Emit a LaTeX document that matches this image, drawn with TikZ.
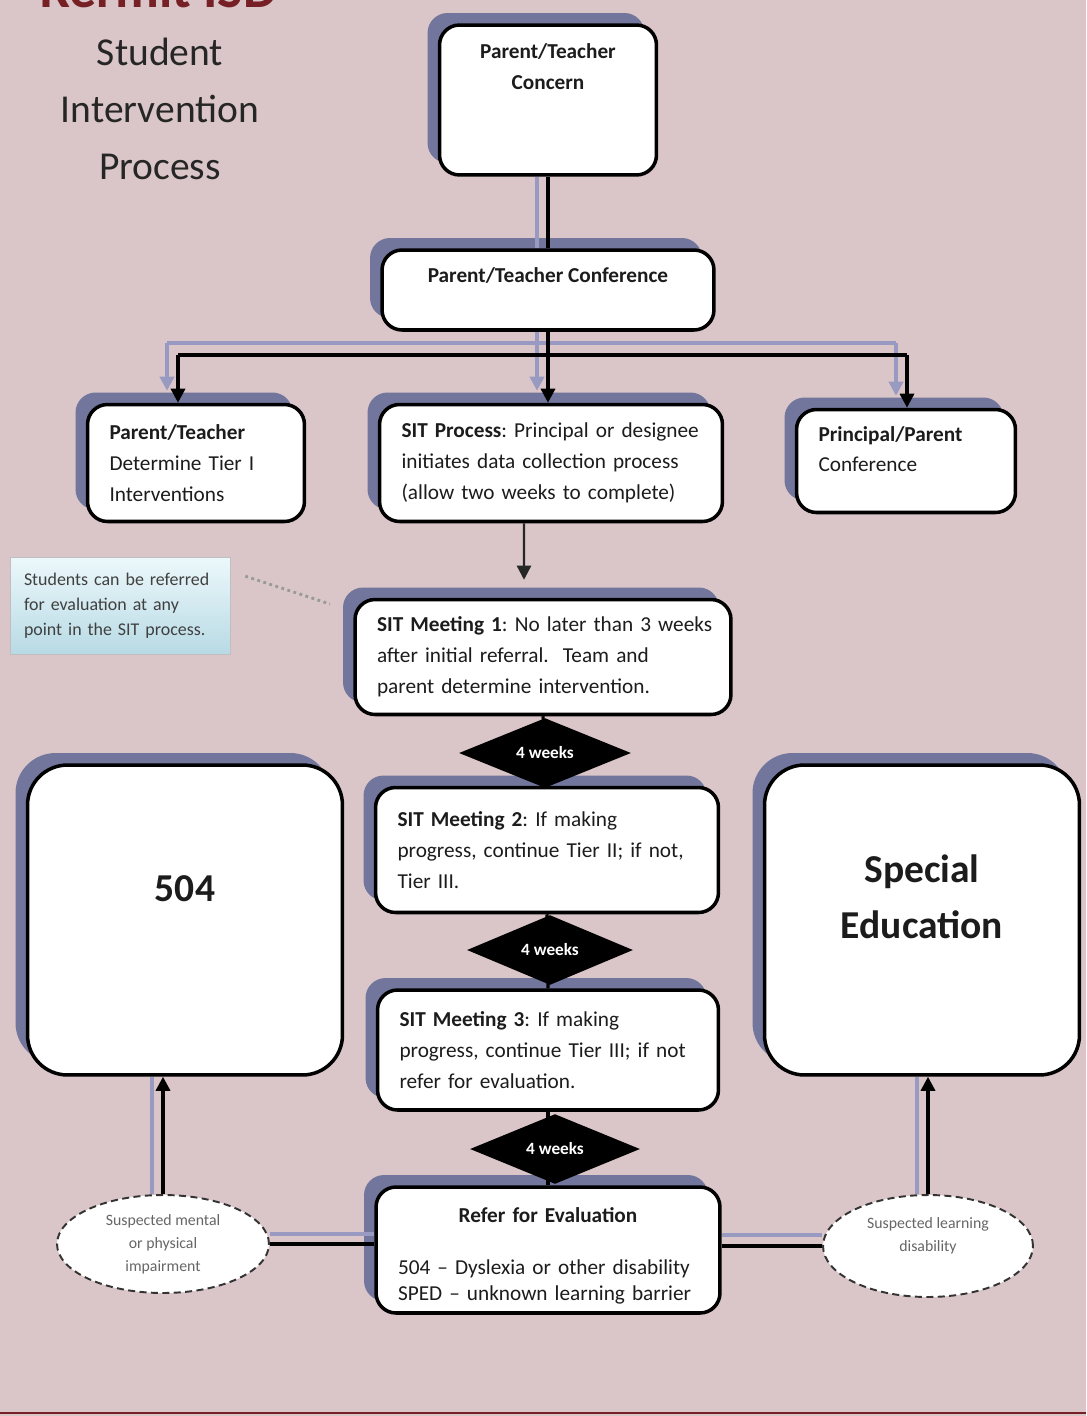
\documentclass[tikz,border=0pt]{standalone}
\usepackage{fontspec}
\setmainfont{Carlito}
\usetikzlibrary{positioning,shapes.geometric,shadows,arrows.meta}

\definecolor{bgpink}{RGB}{218,198,200}
\definecolor{boxshade}{RGB}{114,118,156}
\definecolor{lineshade}{RGB}{152,154,194}
\definecolor{isdred}{RGB}{118,32,38}
\definecolor{inktext}{RGB}{28,28,28}
\definecolor{notetop}{RGB}{236,248,251}
\definecolor{notebottom}{RGB}{184,218,228}

\tikzset{
  ptbox/.style={draw=black,line width=2pt,fill=white,rounded corners=0.4cm,
    general shadow={fill=boxshade,shadow xshift=-0.24cm,shadow yshift=0.24cm},
    inner xsep=0.44cm,inner ysep=2pt,text=inktext,
    font=\frenchspacing\fontsize{12.1}{17.6}\selectfont},
  bigbox/.style={ptbox,rounded corners=0.8cm,align=center,
    font=\bfseries\fontsize{22.5}{31.8}\selectfont},
  weeks/.style={diamond,fill=black,inner sep=0pt,text=white,
    font=\bfseries\fontsize{9.8}{12}\selectfont},
  suspect/.style={ellipse,draw=black!80,dash pattern=on 4pt off 2.5pt,line width=1.1pt,
    fill=white,inner sep=0pt,text=black!60,align=center,
    font=\fontsize{9}{13}\selectfont},
  note/.style={draw=black!25,line width=0.4pt,top color=notetop,bottom color=notebottom,
    inner xsep=0.28cm,align=left,text=black!75,font=\fontsize{10.2}{14.2}\selectfont},
  link/.style={line width=1.8pt},
  linkshade/.style={line width=2.2pt,draw=lineshade},
}

\begin{document}
\begin{tikzpicture}[x=0.02cm,y=-0.02cm,>={Triangle[length=8pt,width=8pt]}]
  \fill[bgpink] (0,0) rectangle (1086,1416);
  \useasboundingbox (0,0) rectangle (1086,1416);
  \draw[isdred,line width=1.2pt] (0,1413) -- (1086,1413);

  % heading
  \node[anchor=base,text=isdred,font=\bfseries\fontsize{30.7}{36}\selectfont] (isd) at (159,8) {Kermit ISD};
  \node[align=center,text=black!85,font=\fontsize{22.5}{32.3}\selectfont] (title) at (160,109)
    {Student\\Intervention\\Process};

  % boxes
  \node[ptbox,minimum width=4.34cm,minimum height=3cm,align=center] (concern) at (548,100)
    {\textbf{Parent/Teacher}\\\textbf{Concern}\\[20pt]~};
  \node[ptbox,minimum width=6.64cm,minimum height=1.6cm,align=center] (conf) at (548,290)
    {\textbf{Parent/Teacher Conference}\\~};
  \node[ptbox,text width=3.46cm,minimum height=2.34cm,align=left] (tier1) at (196,463)
    {\textbf{Parent/Teacher}\\Determine Tier I\\Interventions};
  \node[ptbox,text width=5.98cm,minimum height=2.34cm,align=left] (sitp) at (551,463)
    {\mbox{\textbf{SIT Process}: Principal or designee}\\initiates data collection process\\(allow two weeks to complete)};
  \node[ptbox,text width=3.5cm,minimum height=2.06cm,align=left] (prin) at (906,461)
    {\textbf{Principal/Parent}\\Conference\\[-4pt]~};
  \node[ptbox,text width=6.64cm,minimum height=2.3cm,align=left] (m1) at (543,657)
    {\mbox{\textbf{SIT Meeting 1}: No later than 3 weeks}\\after initial referral.\ \ Team and\\parent determine intervention.};
  \node[ptbox,text width=5.98cm,minimum height=2.5cm,align=left] (m2) at (547,850)
    {\textbf{SIT Meeting 2}: If making\\\mbox{progress, continue Tier II; if not,}\\Tier III.};
  \node[ptbox,text width=5.94cm,minimum height=2.4cm,align=left] (m3) at (548,1050)
    {\textbf{SIT Meeting 3}: If making\\\mbox{progress, continue Tier III; if not}\\refer for evaluation.};
  \node[ptbox,text width=6cm,minimum height=2.52cm,align=left,font=\frenchspacing\fontsize{12.1}{14.7}\selectfont] (refer) at (548,1250)
    {\makebox[6cm]{\rule{0pt}{15pt}\textbf{Refer for Evaluation}}\\[14.7pt]\mbox{504 – Dyslexia or other disability}\\\mbox{SPED – unknown learning barrier}};
  \node[bigbox,minimum width=6.3cm,minimum height=6.2cm] (b504) at (185,920) {504\\[4pt]~};
  \node[bigbox,minimum width=6.3cm,minimum height=6.2cm] (sped) at (922,920) {Special\\Education\\[-5pt]~};

  \node[note,minimum width=4.4cm,minimum height=1.94cm,text width=3.84cm] (callout) at (120,606)
    {Students can be referred\\for evaluation at any\\point in the SIT process.};
  \node[suspect,minimum width=4.24cm,minimum height=1.96cm] (ell1) at (163,1244)
    {Suspected mental\\or physical\\impairment};
  \node[suspect,minimum width=4.2cm,minimum height=2.04cm] (ell2) at (928,1246)
    {Suspected learning\\disability\\~};

  % connectors, shaded copies first
  \coordinate (busL) at (178,355);
  \coordinate (busR) at (907,355);
  \coordinate (sbusL) at (167,343);
  \coordinate (sbusR) at (896,343);
  \draw[linkshade] ([xshift=-0.22cm]concern.south) -- ([xshift=-0.22cm]conf.north);
  \draw[linkshade] ([xshift=-0.22cm]conf.south) -- ([xshift=-0.22cm]conf.south |- sbusL);
  \draw[linkshade] (sbusL) -- (sbusR);
  \draw[linkshade,->] (sbusL) -- ([yshift=0.24cm]sbusL |- tier1.north);
  \draw[linkshade,->] ([xshift=-0.22cm]conf.south |- sbusL) -- ([xshift=-0.22cm,yshift=0.24cm]conf.south |- sitp.north);
  \draw[linkshade,->] (sbusR) -- ([yshift=0.24cm]sbusR |- prin.north);
  \draw[linkshade] ([xshift=-0.22cm]ell1.north) -- ([xshift=-0.22cm]ell1.north |- b504.south);
  \draw[linkshade] ([yshift=0.2cm]ell1.east) -- ([yshift=0.2cm]ell1.east -| refer.west);
  \draw[linkshade] ([yshift=0.22cm]refer.east |- ell2.west) -- ([yshift=0.22cm]ell2.west);
  \draw[linkshade] ([xshift=-0.22cm]ell2.north) -- ([xshift=-0.22cm]ell2.north |- sped.south);

  \draw[link] (concern.south) -- (conf.north);
  \draw[link] (conf.south) -- (conf.south |- busL);
  \draw[link] (busL) -- (busR);
  \draw[link,->] (busL) -- (busL |- tier1.north);
  \draw[link,->] (conf.south |- busL) -- (conf.south |- sitp.north);
  \draw[link,->] (busR) -- (busR |- prin.north);
  \draw[line width=1.3pt,draw=black!85,->] ([xshift=-0.54cm]sitp.south) -- ([xshift=-0.38cm,yshift=0.36cm]m1.north);
  \draw[link] (m1.south) -- (m2.north);
  \draw[link] (m2.south) -- (m3.north);
  \draw[link] (m3.south) -- (refer.north);
  \draw[link,->] (ell1.north) -- (ell1.north |- b504.south);
  \draw[link] (ell1.east) -- (ell1.east -| refer.west);
  \draw[link] (refer.east |- ell2.west) -- (ell2.west);
  \draw[link,->] (ell2.north) -- (ell2.north |- sped.south);
  \draw[black!40,line width=1.6pt,dotted] ([xshift=0.3cm,yshift=-0.38cm]callout.north east) -- (330,604);

  % waiting times
  \node[weeks,minimum width=3.44cm,minimum height=1.24cm] (d1) at (545,753) {4 weeks};
  \node[weeks,minimum width=3.32cm,minimum height=1.2cm] (d2) at (550,950) {4 weeks};
  \node[weeks,minimum width=3.4cm,minimum height=1.24cm] (d3) at (555,1149) {4 weeks};
\end{tikzpicture}
\end{document}
